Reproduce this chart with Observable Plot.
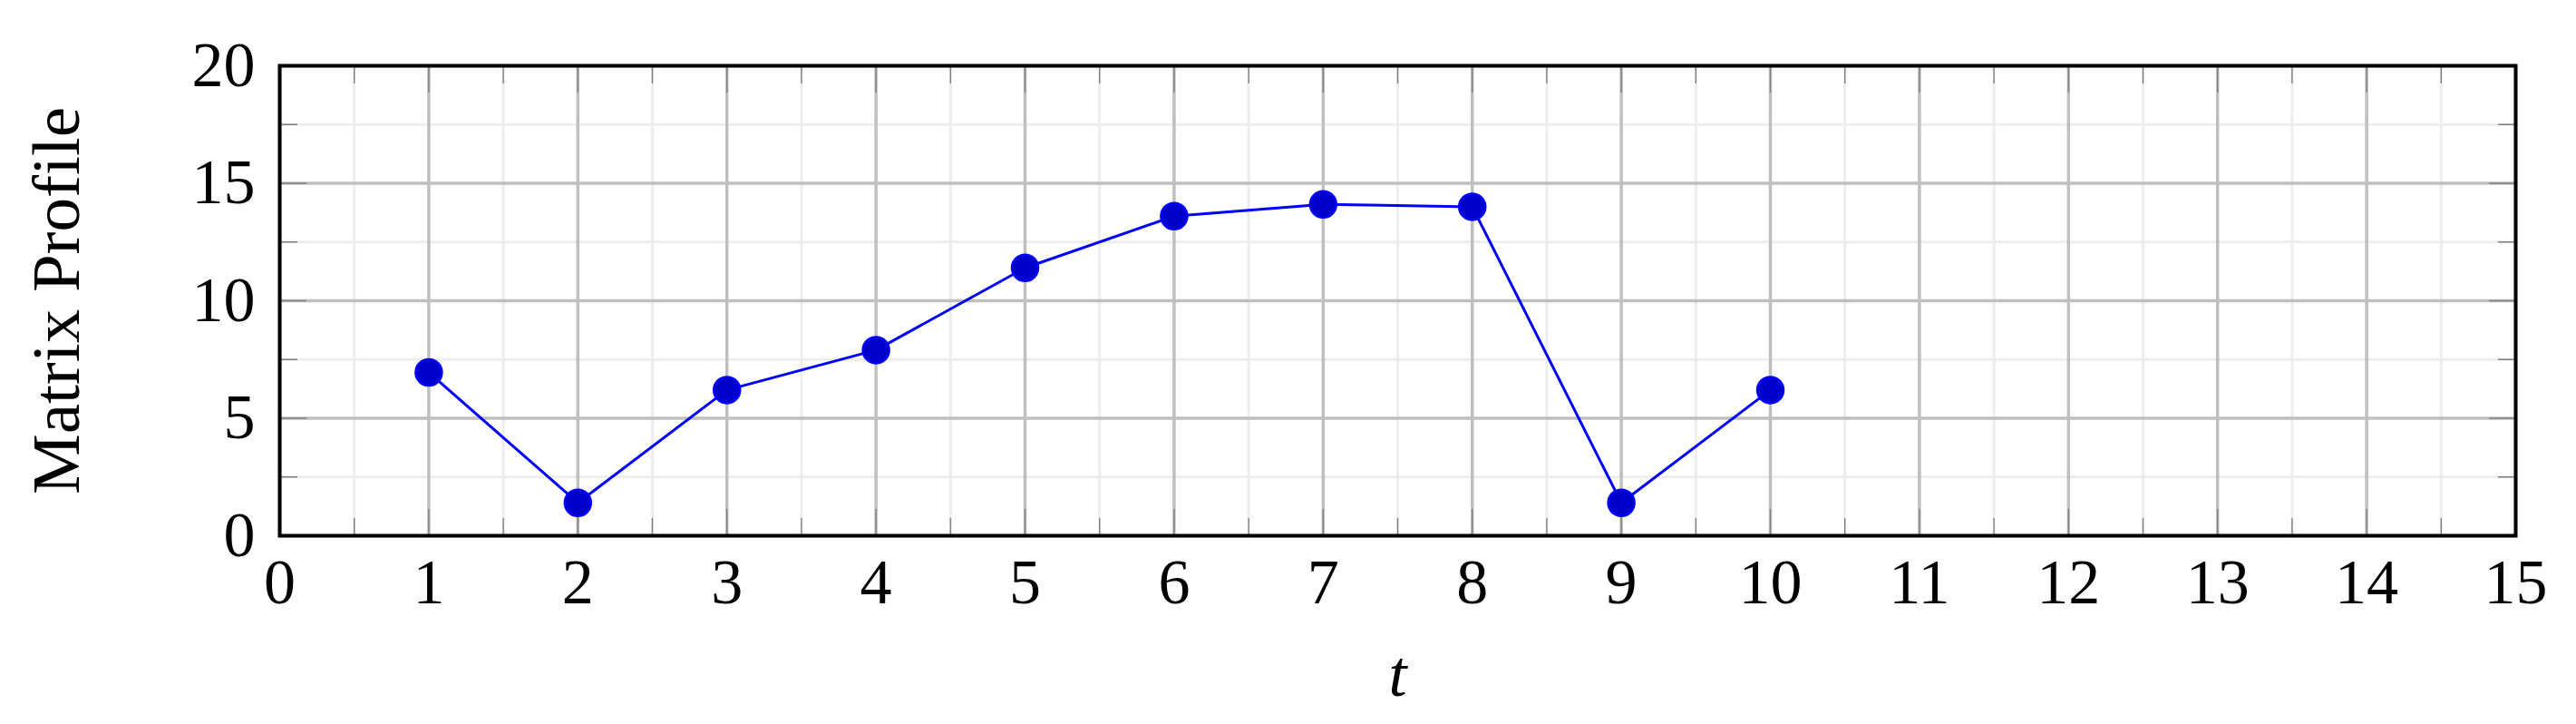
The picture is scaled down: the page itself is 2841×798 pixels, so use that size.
<!DOCTYPE html>
<html>
<head>
<meta charset="utf-8">
<script src="https://cdn.jsdelivr.net/npm/d3@7"></script>
<script src="https://cdn.jsdelivr.net/npm/@observablehq/plot@0.6"></script>
<style>
  html, body { margin: 0; padding: 0; background: #fff; }
  #chart svg { display: block; }
</style>
</head>
<body>
<div id="chart"></div>
<script>
// Data
const t = [1, 2, 3, 4, 5, 6, 7, 8, 9, 10];
const matrixProfile = [6.95, 1.4, 6.2, 7.9, 11.4, 13.6, 14.1, 14.0, 1.4, 6.2];

// Ticks
const xMajor = [0, 1, 2, 3, 4, 5, 6, 7, 8, 9, 10, 11, 12, 13, 14, 15];
const xMinor = [0.5, 1.5, 2.5, 3.5, 4.5, 5.5, 6.5, 7.5, 8.5, 9.5, 10.5, 11.5, 12.5, 13.5, 14.5];
const yMajor = [0, 5, 10, 15, 20];
const yMinor = [2.5, 7.5, 12.5, 17.5];

const xLabel = "t";
const yLabel = "Matrix Profile";

const data = t.map((x, i) => ({t: x, mp: matrixProfile[i]}));

const FONT = "'Liberation Serif', 'DejaVu Serif', serif";
const tickShape = { draw(context, l) { context.moveTo(0, 0); context.lineTo(0, -l); } };
const tickStyle = {shape: tickShape, anchor: "start", stroke: "#808080", strokeWidth: 1.4};
const intFormat = d => String(d);

const chart = Plot.plot({
  width: 2841,
  height: 798,
  marginLeft: 308,
  marginRight: 67,
  marginTop: 72,
  marginBottom: 208,
  style: {fontFamily: FONT, fontSize: "70px", background: "white", color: "black"},
  x: {domain: [0, 15]},
  y: {domain: [0, 20]},
  marks: [
    // minor grid
    Plot.gridX(xMinor, {stroke: "#ededed", strokeOpacity: 1, strokeWidth: 3}),
    Plot.gridY(yMinor, {stroke: "#ededed", strokeOpacity: 1, strokeWidth: 3}),
    // major grid
    Plot.gridX(xMajor, {stroke: "#bfbfbf", strokeOpacity: 1, strokeWidth: 3.5}),
    Plot.gridY(yMajor, {stroke: "#bfbfbf", strokeOpacity: 1, strokeWidth: 3.5}),
    // inward ticks, all four sides
    Plot.vector(xMajor, {x: d => d, frameAnchor: "bottom", length: 29, rotate: 0, ...tickStyle}),
    Plot.vector(xMinor, {x: d => d, frameAnchor: "bottom", length: 19, rotate: 0, ...tickStyle}),
    Plot.vector(xMajor, {x: d => d, frameAnchor: "top", length: 29, rotate: 180, ...tickStyle}),
    Plot.vector(xMinor, {x: d => d, frameAnchor: "top", length: 19, rotate: 180, ...tickStyle}),
    Plot.vector(yMajor, {y: d => d, frameAnchor: "left", length: 29, rotate: 90, ...tickStyle}),
    Plot.vector(yMinor, {y: d => d, frameAnchor: "left", length: 19, rotate: 90, ...tickStyle}),
    Plot.vector(yMajor, {y: d => d, frameAnchor: "right", length: 29, rotate: -90, ...tickStyle}),
    Plot.vector(yMinor, {y: d => d, frameAnchor: "right", length: 19, rotate: -90, ...tickStyle}),
    // axes (labels only)
    Plot.axisX(xMajor, {tickSize: 0, tickPadding: 25, fontSize: 70, label: null, tickFormat: intFormat}),
    Plot.axisY(yMajor, {tickSize: 0, tickPadding: 27, fontSize: 70, label: null, tickFormat: intFormat}),
    // data
    Plot.line(data, {x: "t", y: "mp", stroke: "#0000ff", strokeWidth: 3}),
    Plot.dot(data, {x: "t", y: "mp", r: 14.5, fill: "#0000cc", stroke: "#0000ff", strokeWidth: 2.5}),
    // frame
    Plot.frame({stroke: "black", strokeWidth: 4}),
    // axis titles
    Plot.text([xLabel], {text: d => d, frameAnchor: "bottom", dy: 153, fontSize: 72, fontStyle: "italic", lineAnchor: "middle", textAnchor: "middle"}),
    Plot.text([yLabel], {text: d => d, frameAnchor: "left", dx: -246, rotate: -90, fontSize: 75, lineAnchor: "middle", textAnchor: "middle"})
  ]
});

document.getElementById("chart").appendChild(chart);
</script>
</body>
</html>
